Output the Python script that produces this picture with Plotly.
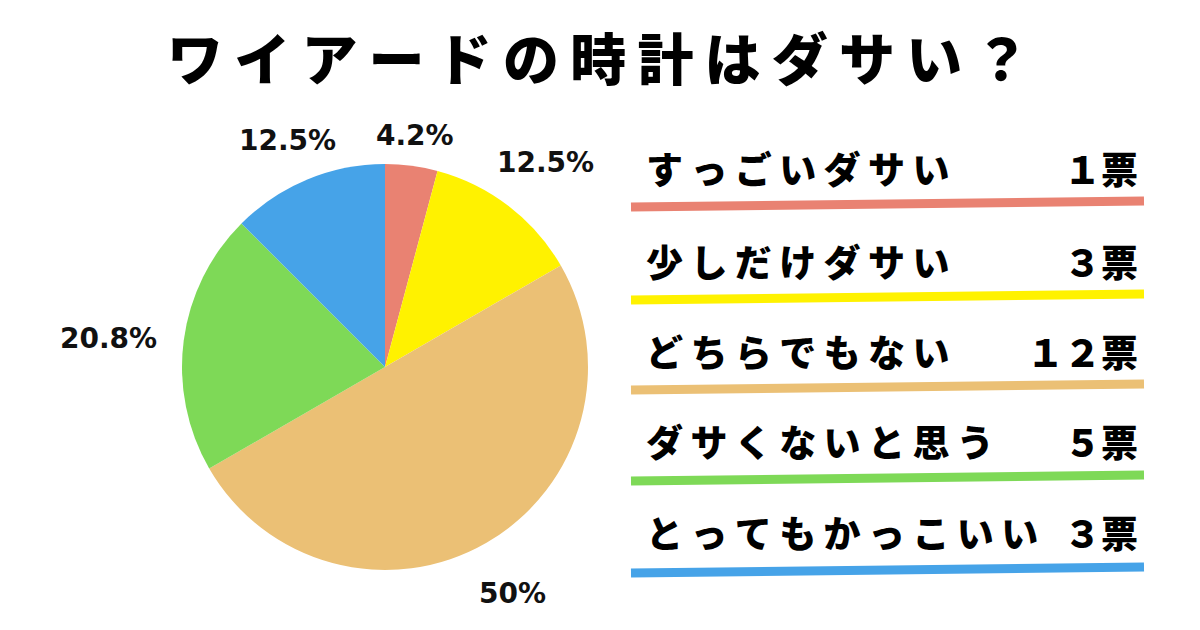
import plotly.graph_objects as go

title = "ワイアードの時計はダサい？"
categories = ["すっごいダサい", "少しだけダサい", "どちらでもない", "ダサくないと思う", "とってもかっこいい"]
votes = [1, 3, 12, 5, 3]
vote_labels = ["１票", "３票", "１２票", "５票", "３票"]
colors = ["#E98272", "#FFF200", "#EBC075", "#7ED957", "#46A3E8"]

total = sum(votes)
def pct(v):
    p = round(v / total * 100, 1)
    s = f"{p:.1f}"
    if s.endswith(".0"):
        s = s[:-2]
    return s + "%"

def spaced(s, sp="\u2009"):
    return sp.join(list(s))

W, H = 1200, 630
fig = go.Figure()
fig.add_trace(go.Pie(
    labels=categories, values=votes, sort=False, direction="clockwise", rotation=0,
    marker=dict(colors=colors, line=dict(width=0)),
    textinfo="none", hoverinfo="label+value+percent", showlegend=False,
    domain=dict(x=[182 / W, 588 / W], y=[60 / H, 466 / H]),
))

ann = []
pct_pos = [(415, 135), (545, 163), (512, 593), (108, 338), (287, 140)]
for v, (px, py) in zip(votes, pct_pos):
    ann.append(dict(x=px / W, y=1 - py / H, xref="paper", yref="paper", text=pct(v),
                    showarrow=False, xanchor="center", yanchor="middle",
                    font=dict(family="DejaVu Sans", size=28, color="#111", weight="bold")))

ann.append(dict(x=598 / W, y=1 - 55 / H, xref="paper", yref="paper", text=spaced(title), showarrow=False,
                xanchor="center", yanchor="middle",
                font=dict(family="Noto Sans CJK JP", size=56, color="#000", weight=900)))

row_y = [168, 261, 351, 441, 532]
line_y = [204, 297, 387, 478, 570]
shapes = []
for cat, lab, col, ry, ly in zip(categories, vote_labels, colors, row_y, line_y):
    ann.append(dict(x=644 / W, y=1 - ry / H, xref="paper", yref="paper", text=spaced(cat), showarrow=False,
                    xanchor="left", yanchor="middle",
                    font=dict(family="Noto Sans CJK JP", size=37, color="#000", weight=900)))
    ann.append(dict(x=1140 / W, y=1 - ry / H, xref="paper", yref="paper", text=lab, showarrow=False,
                    xanchor="right", yanchor="middle",
                    font=dict(family="Noto Sans CJK JP", size=37, color="#000", weight=900)))
    shapes.append(dict(type="line", xref="paper", yref="paper",
                       x0=631 / W, x1=1144 / W, y0=1 - (ly + 3) / H, y1=1 - (ly - 3) / H,
                       line=dict(color=col, width=9)))

fig.update_layout(width=W, height=H, margin=dict(l=0, r=0, t=0, b=0),
                  paper_bgcolor="white", plot_bgcolor="white",
                  annotations=ann, shapes=shapes)
fig.write_html("out.html", config={"displayModeBar": False},
               post_script="document.body.style.margin='0';")
